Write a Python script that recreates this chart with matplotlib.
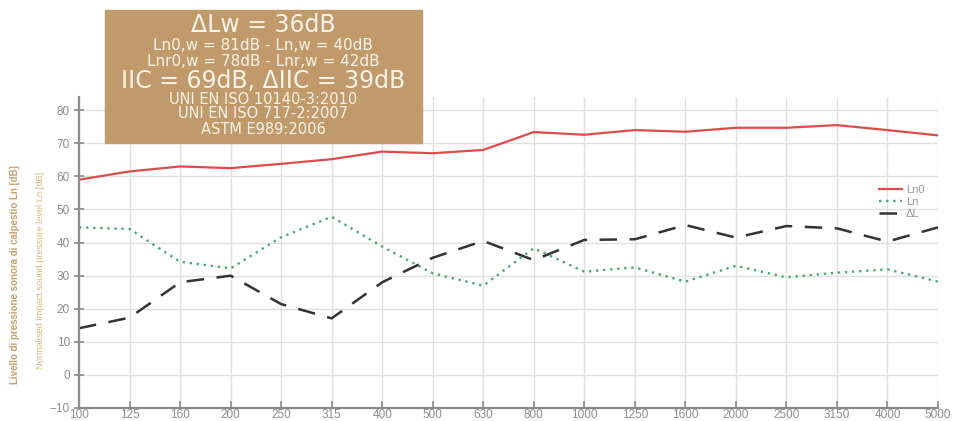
import matplotlib.pyplot as plt
from matplotlib.patches import Rectangle

freqs = ['100', '125', '160', '200', '250', '315', '400', '500', '630', '800',
         '1000', '1250', '1600', '2000', '2500', '3150', '4000', '5000']
ln0 = [59.0, 61.5, 63.0, 62.5, 63.8, 65.2, 67.5, 67.0, 68.0, 73.4,
       72.6, 74.0, 73.5, 74.7, 74.7, 75.5, 74.0, 72.4]
ln = [44.6, 44.1, 34.2, 32.2, 41.6, 47.8, 38.8, 30.7, 27.0, 38.3,
      31.2, 32.5, 28.2, 33.0, 29.5, 30.9, 31.9, 28.2]
delta_l = [14.1, 17.3, 28.0, 30.0, 21.4, 17.1, 28.0, 35.4, 40.5, 34.7,
           40.8, 41.0, 45.3, 41.5, 45.0, 44.3, 40.3, 44.6]
yticks = [-10, 0, 10, 20, 30, 40, 50, 60, 70, 80]

box_lines = [('ΔLw = 36dB', 17), ('Ln0,w = 81dB - Ln,w = 40dB', 11),
             ('Lnr0,w = 78dB - Lnr,w = 42dB', 11), ('IIC = 69dB, ΔIIC = 39dB', 17),
             ('UNI EN ISO 10140-3:2010', 10.5), ('UNI EN ISO 717-2:2007', 10.5),
             ('ASTM E989:2006', 10.5)]
box_y = [25, 45, 61, 81, 99, 114, 130]

plt.rcParams['font.family'] = ['Liberation Sans', 'DejaVu Sans']
grey = '#8a8a8a'
tan = '#c19a6b'

fig = plt.figure(figsize=(9.56, 4.21), dpi=100)
ax = fig.add_axes([79 / 956, 13 / 421, 859 / 956, 311 / 421])
x = range(len(freqs))
ax.plot(x, ln0, color='#dd4b4b', lw=1.6, label='Ln0')
ax.plot(x, ln, color='#45ab73', lw=1.7, ls=(0, (1, 2)), label='Ln')
ax.plot(x, delta_l, color='#333333', lw=1.8, ls=(0, (7, 5)), label='ΔL')

ax.set_xlim(0, len(freqs) - 1)
ax.set_ylim(-10, 84)
ax.set_xticks(list(x))
ax.set_xticklabels(freqs)
ax.set_yticks(yticks)
ax.grid(True, color='#e0e0e0', lw=1.0)
ax.set_axisbelow(True)
for s in ['top', 'right']:
    ax.spines[s].set_visible(False)
for s in ['left', 'bottom']:
    ax.spines[s].set_color(grey)
    ax.spines[s].set_linewidth(1.6)
ax.tick_params(axis='y', direction='inout', length=7, width=1.2, colors=grey, labelsize=8.5, pad=3)
ax.tick_params(axis='x', direction='in', length=5, width=1.2, colors=grey, labelsize=8.5, pad=1)
ax.tick_params(labelcolor='#8c8c8c')

leg = ax.legend(loc='upper left', bbox_to_anchor=(0.92, 0.75), frameon=False, fontsize=8,
                handlelength=2.0, labelspacing=0.2, handletextpad=0.4)
for t in leg.get_texts():
    t.set_color('#9a9a9a')

ax.text(-0.075, 0.43, 'Livello di pressione sonora di calpestio Ln [dB]', transform=ax.transAxes,
        rotation=90, ha='center', va='center', color='#c9a068', fontsize=7, fontweight='bold')
ax.text(-0.045, 0.444, 'Normalised impact sound pressure level Ln [dB]', transform=ax.transAxes,
        rotation=90, ha='center', va='center', color='#d8b985', fontsize=6.7)

fig.patches.append(Rectangle((105 / 956, 1 - 143 / 421), 317 / 956, 133 / 421,
                             transform=fig.transFigure, color=tan, zorder=5))
for (txt, size), yy in zip(box_lines, box_y):
    fig.text(263 / 956, 1 - yy / 421, txt, ha='center', va='center', color='#fbf3e8',
             fontsize=size, family='DejaVu Sans', zorder=6)

plt.savefig('out.png')
